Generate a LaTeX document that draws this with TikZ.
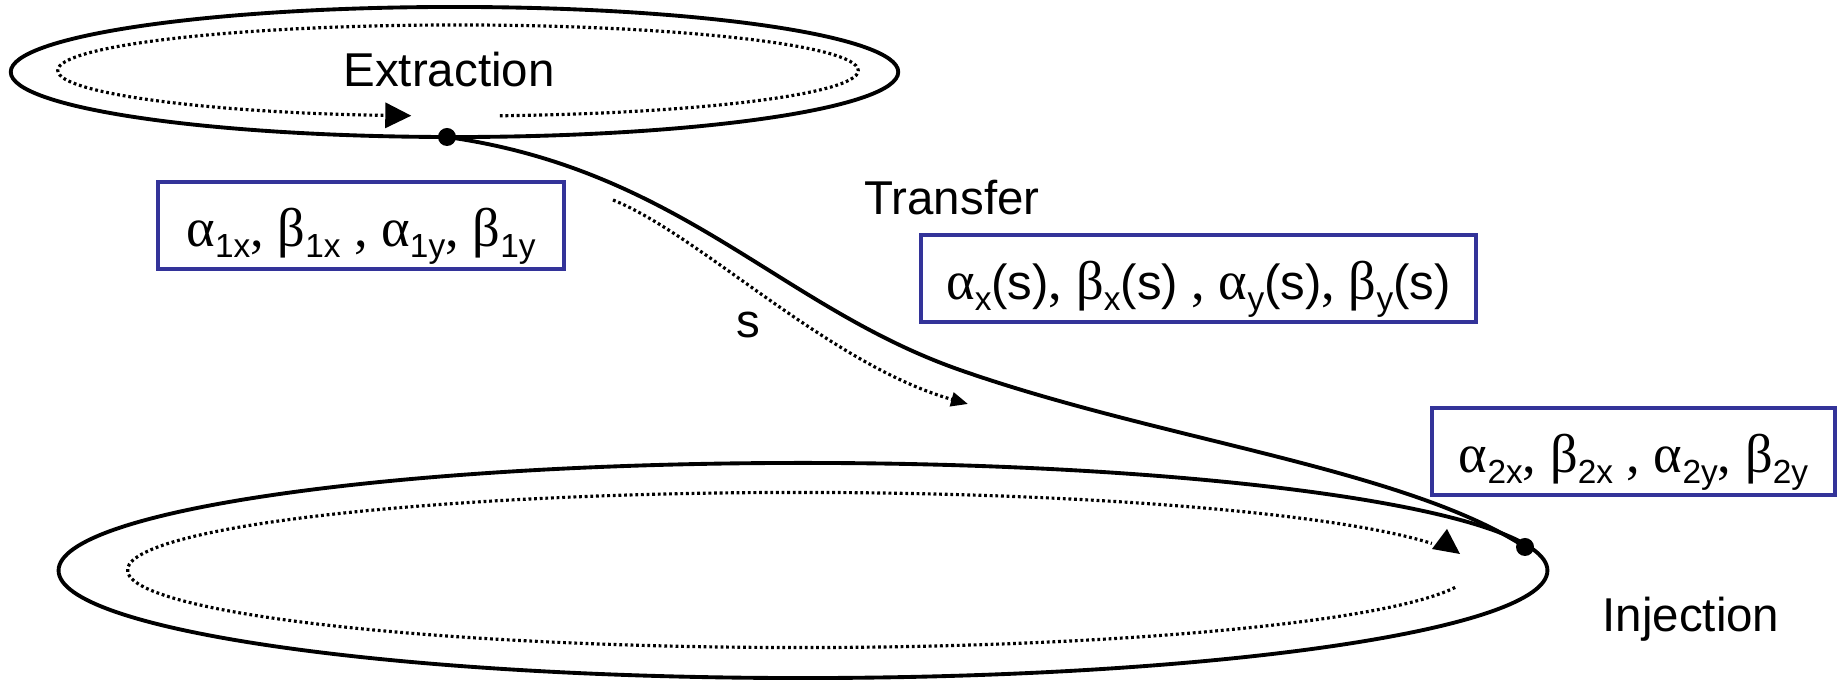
\documentclass[tikz,border=0pt]{standalone}
\usepackage{fontspec}
\setmainfont{Liberation Sans}
\newfontfamily\symbfont{Liberation Serif}
\usetikzlibrary{arrows.meta,positioning}
\definecolor{BoxBlue}{RGB}{51,51,153}
\newcommand{\lowsub}[1]{\raisebox{-2.9pt}{\fontsize{9.5}{10}\selectfont #1}}
\newcommand{\symb}[1]{{\symbfont\fontsize{15.5}{16}\selectfont #1}}

\begin{document}
\begin{tikzpicture}[x=0.01cm,y=0.01cm,
  orbit/.style={line width=1.1pt},
  track/.style={line width=0.9pt,dash pattern=on 0.8pt off 0.8pt},
  box/.style={draw=BoxBlue,line width=1.1pt,inner sep=0pt,text height=0.65cm,text depth=0.22cm,anchor=base,font=\fontsize{14}{16}\selectfont},
  lab/.style={font=\fontsize{13.5}{16}\selectfont,inner sep=0pt,anchor=base},
  spot/.style={circle,fill,inner sep=0pt,minimum size=0.18cm}
]
  \useasboundingbox (0,0) rectangle (1838,-680);
  \draw[orbit] (454.5,-72) ellipse [x radius=4.435cm,y radius=0.65cm];
  \draw[orbit] (803,-570.5) ellipse [x radius=7.44cm,y radius=1.075cm];
  \draw[track,-{Triangle[length=0.26cm,width=0.25cm]}] (458,-70.5) ++(-84:4cm and 0.455cm)
    arc [start angle=-84,end angle=263.3,x radius=4cm,y radius=0.455cm];
  \draw[track] (800,-570) ++(-13:6.72cm and 0.775cm)
    arc [start angle=-13,end angle=-340,x radius=6.72cm,y radius=0.775cm];
  \fill (1447,-529) -- (1432,-549) -- (1460,-554) -- cycle;
  \node[spot] (ext) at (447,-137) {};
  \node[spot] (inj) at (1525,-547) {};
  \draw[orbit] (ext.center) .. controls (680,-170) and (780,-307) .. (960,-370)
    .. controls (1160,-440) and (1405,-469) .. (inj.center);
  \coordinate (s0) at (613,-200);
  \coordinate (s1) at (968,-404);
  \draw[track,-{Triangle[length=0.17cm,width=0.14cm]}] (s0) .. controls (700,-235) and (830,-365) .. (s1);
  \node[box,minimum width=4.06cm] (b1) at (361,-247)
    {\symb{α}\lowsub{1x}\symb{, β}\lowsub{1x}\symb{ , α}\lowsub{1y}\symb{, β}\lowsub{1y}};
  \node[box,minimum width=5.55cm] (b2) at (1198.5,-300)
    {\symb{α}\lowsub{x}(s)\symb{, β}\lowsub{x}(s)\symb{ , α}\lowsub{y}(s)\symb{, β}\lowsub{y}(s)};
  \node[box,minimum width=4.03cm] (b3) at (1633.5,-473)
    {\symb{α}\lowsub{2x}\symb{, β}\lowsub{2x}\symb{ , α}\lowsub{2y}\symb{, β}\lowsub{2y}};
  \node[lab] (extlab) at (449,-87) {Extraction};
  \node[lab] (tlab) at (952,-215) {Transfer};
  \node[lab] (slab) at (748,-338) {s};
  \node[lab] (ilab) at (1691,-632) {Injection};
\end{tikzpicture}
\end{document}
